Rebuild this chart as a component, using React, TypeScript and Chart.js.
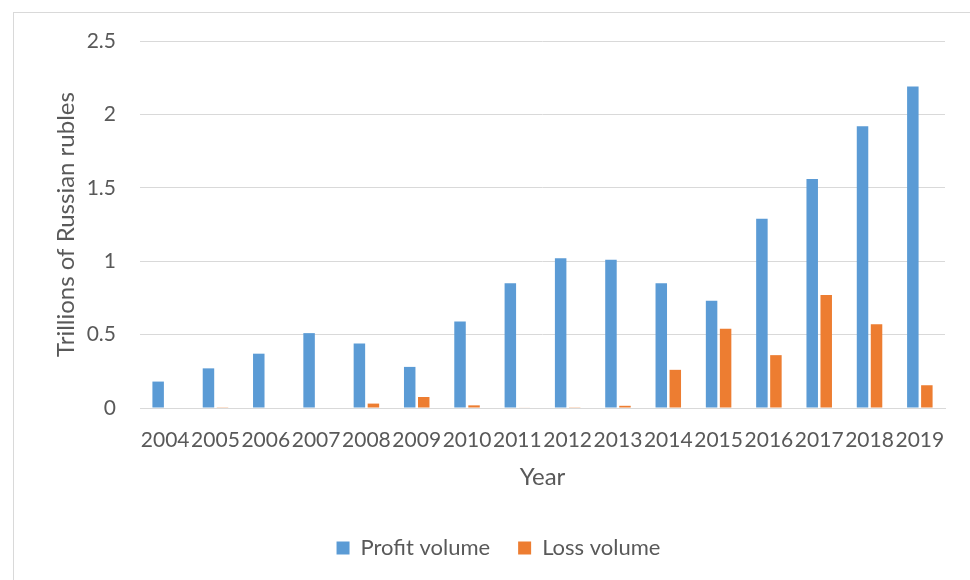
import React, { useEffect, useRef } from "react";
import { Chart, registerables } from "chart.js";

Chart.register(...registerables);

const years = ["2004", "2005", "2006", "2007", "2008", "2009", "2010", "2011", "2012", "2013", "2014", "2015", "2016", "2017", "2018", "2019"];
const profitVolume = [0.18, 0.27, 0.37, 0.51, 0.44, 0.28, 0.59, 0.85, 1.02, 1.01, 0.85, 0.73, 1.29, 1.56, 1.92, 2.19];
const lossVolume = [0, 0.005, 0, 0, 0.03, 0.075, 0.018, 0.003, 0.005, 0.015, 0.26, 0.54, 0.36, 0.77, 0.57, 0.155];
const yTicks = [0, 0.5, 1, 1.5, 2, 2.5];

const FONT = "Lato";
const TEXT = "#595959";
const GRID = "#d9d9d9";

export default function App() {
  const ref = useRef<HTMLCanvasElement>(null);

  useEffect(() => {
    document.body.style.overflow = "hidden";
    const canvas = ref.current;
    if (!canvas) return;
    const chart = new Chart(canvas, {
      type: "bar",
      data: {
        labels: years,
        datasets: [
          {
            label: "Profit volume",
            data: profitVolume,
            backgroundColor: "#5B9BD5",
            barPercentage: 0.82,
            categoryPercentage: 0.557,
          },
          {
            label: "Loss volume",
            data: lossVolume,
            backgroundColor: "#ED7D31",
            barPercentage: 0.82,
            categoryPercentage: 0.557,
          },
        ],
      },
      options: {
        animation: false,
        responsive: false,
        layout: { padding: { left: 52, right: 25, top: 41, bottom: 11 } },
        plugins: {
          legend: {
            position: "bottom",
            labels: {
              boxWidth: 13,
              boxHeight: 13,
              padding: 28,
              color: TEXT,
              font: { family: FONT, size: 22 },
            },
          },
          tooltip: { enabled: false },
        },
        scales: {
          x: {
            grid: { display: false, drawTicks: false },
            border: { display: true, color: GRID, width: 1 },
            ticks: {
              color: TEXT,
              font: { family: FONT, size: 21 },
              autoSkip: false,
              maxRotation: 0,
              minRotation: 0,
              padding: 20,
            },
            title: {
              display: true,
              text: "Year",
              color: TEXT,
              font: { family: FONT, size: 24 },
              padding: { top: 0, bottom: 17 },
            },
            afterFit: (scale: any) => {
              scale.height = 101;
            },
          },
          y: {
            min: 0,
            max: 2.5,
            grid: { color: GRID, lineWidth: 1, drawTicks: false },
            border: { display: false },
            afterBuildTicks: (scale: any) => {
              scale.ticks = yTicks.map((v) => ({ value: v }));
            },
            ticks: {
              color: TEXT,
              font: { family: FONT, size: 21 },
              padding: 24,
              callback: (v: any) => String(v),
            },
            title: {
              display: true,
              text: "Trillions of Russian rubles",
              color: TEXT,
              font: { family: FONT, size: 24 },
              padding: { top: 0, bottom: 0 },
            },
            afterFit: (scale: any) => {
              scale.width = 88;
            },
          },
        },
      },
    });
    return () => chart.destroy();
  }, []);

  return (
    <div>
      <div
        style={{
          position: "fixed",
          left: 13,
          top: 12,
          width: 1000,
          height: 620,
          border: "1px solid #d9d9d9",
          boxSizing: "border-box",
        }}
      />
      <canvas
        ref={ref}
        width={970}
        height={580}
        style={{ position: "fixed", left: 0, top: 0, width: 970, height: 580 }}
      />
    </div>
  );
}
